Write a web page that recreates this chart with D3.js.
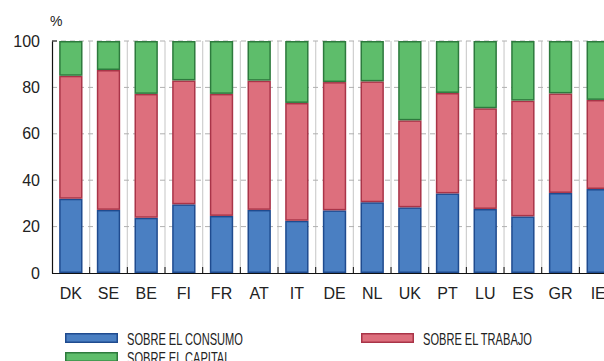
<!DOCTYPE html>
<html>
<head>
<meta charset="utf-8">
<script src="https://cdn.jsdelivr.net/npm/d3@7"></script>
<style>
  html, body { margin: 0; padding: 0; background: #fff; }
  svg { display: block; }
  .tick-label { font-family: "Liberation Sans", Arial, sans-serif; font-size: 16px; fill: #222; }
  .legend-label { font-family: "Liberation Sans", Arial, sans-serif; font-size: 16px; fill: #222; }
</style>
</head>
<body>
<svg id="chart" width="604" height="361"></svg>
<script>
// Tax revenue structure by country (% of total)
const countries = ["DK","SE","BE","FI","FR","AT","IT","DE","NL","UK","PT","LU","ES","GR","IE"];
const consumo  = [32, 27.2, 23.8, 29.6, 24.6, 27.2, 22.5, 27, 30.5, 28.3, 34.3, 27.6, 24.4, 34.5, 36.2];
const trabajo  = [53, 60.3, 53.4, 53.4, 52.6, 55.7, 50.8, 55.3, 52.1, 37.5, 43.3, 43.4, 49.9, 42.9, 38.4];
const capital  = [15, 12.5, 22.8, 17, 22.8, 17.1, 26.7, 17.7, 17.4, 34.2, 22.4, 29, 25.7, 22.6, 25.4];
const yTicks = [0, 20, 40, 60, 80, 100];

const seriesKeys = ["consumo", "trabajo", "capital"];
const seriesNames = { consumo: "SOBRE EL CONSUMO", trabajo: "SOBRE EL TRABAJO", capital: "SOBRE EL CAPITAL" };
const fills   = { consumo: "#4a7fc2", trabajo: "#dd6f7d", capital: "#5ebd6b" };
const strokes = { consumo: "#1f4b8f", trabajo: "#a93448", capital: "#2d7a3d" };

const rows = countries.map((c, i) => ({ country: c, consumo: consumo[i], trabajo: trabajo[i], capital: capital[i] }));

const svg = d3.select("#chart");
const plotLeft = 52, plotTop = 41, plotBottom = 273;
const step = 37.67;
const plotRight = plotLeft + step * countries.length;

const x = d3.scaleBand().domain(countries).range([plotLeft, plotRight]).paddingInner(0.38).paddingOuter(0.19);
const y = d3.scaleLinear().domain([0, 100]).range([plotBottom, plotTop]);

// vertical separators between countries
const bounds = d3.range(1, countries.length).map(i => plotLeft + i * step);
svg.append("g").selectAll("line").data(bounds).join("line")
  .attr("x1", d => d).attr("x2", d => d)
  .attr("y1", plotTop).attr("y2", plotBottom)
  .attr("stroke", "#cfcfcf").attr("stroke-width", 1.2);

// horizontal dashed grid
svg.append("g").selectAll("line").data(yTicks.filter(t => t > 0)).join("line")
  .attr("x1", plotLeft).attr("x2", plotRight)
  .attr("y1", d => y(d)).attr("y2", d => y(d))
  .attr("stroke", "#b0b0b0").attr("stroke-width", 1).attr("stroke-dasharray", "5,4");

// stacked bars
const stacked = d3.stack().keys(seriesKeys)(rows);
svg.append("g").selectAll("g").data(stacked).join("g")
  .attr("fill", d => fills[d.key]).attr("stroke", d => strokes[d.key])
  .attr("stroke-width", 1.5)
  .selectAll("rect").data(d => d).join("rect")
  .attr("x", d => x(d.data.country) + 0.75)
  .attr("width", x.bandwidth() - 1.5)
  .attr("y", d => y(d[1]) + 0.75)
  .attr("height", d => y(d[0]) - y(d[1]) - 1.5);

// axes
const yAxis = svg.append("g").attr("transform", `translate(${plotLeft},0)`)
  .call(d3.axisLeft(y).tickValues(yTicks).tickSize(0).tickPadding(12));
yAxis.select(".domain").attr("stroke", "#111").attr("stroke-width", 1.2);
yAxis.selectAll("text").attr("class", "tick-label").attr("fill", null);
yAxis.attr("font-family", null).attr("font-size", null);

svg.append("line").attr("x1", plotLeft).attr("x2", plotLeft + 5).attr("y1", plotTop).attr("y2", plotTop)
  .attr("stroke", "#111").attr("stroke-width", 1);

const xAxis = svg.append("g").attr("transform", `translate(0,${plotBottom})`)
  .call(d3.axisBottom(x).tickSize(0).tickPadding(15));
xAxis.select(".domain").attr("d", `M${plotLeft},0.5H${plotRight}`).attr("stroke", "#111").attr("stroke-width", 1.2);
xAxis.selectAll("text").attr("class", "tick-label").attr("fill", null);
xAxis.attr("font-family", null).attr("font-size", null);

// small inward ticks between countries
svg.append("g").selectAll("line").data(bounds).join("line")
  .attr("x1", d => d).attr("x2", d => d)
  .attr("y1", plotBottom - 6).attr("y2", plotBottom)
  .attr("stroke", "#111").attr("stroke-width", 1);

// unit label
svg.append("text").attr("x", 50).attr("y", 26).attr("class", "tick-label")
  .style("font-size", "14px").text("%");

// legend
const legendItems = [
  { key: "consumo", x: 65, y: 333 },
  { key: "trabajo", x: 361, y: 333 },
  { key: "capital", x: 65, y: 352 }
];
const lg = svg.append("g").selectAll("g").data(legendItems).join("g")
  .attr("transform", d => `translate(${d.x},${d.y})`);
lg.append("rect").attr("x", 0.75).attr("y", 0.75).attr("width", 51.5).attr("height", 8.5)
  .attr("fill", d => fills[d.key]).attr("stroke", d => strokes[d.key]).attr("stroke-width", 1.5);
const labels = lg.append("text").attr("class", "legend-label")
  .text(d => seriesNames[d.key]);
// condensed legend type: squeeze horizontally so the longest label spans 116px
const natural = labels.filter(d => d.key === "consumo").node().getComputedTextLength();
const squeeze = 116 / natural;
labels.attr("transform", `translate(62,12) scale(${squeeze},1)`);
</script>
</body>
</html>
